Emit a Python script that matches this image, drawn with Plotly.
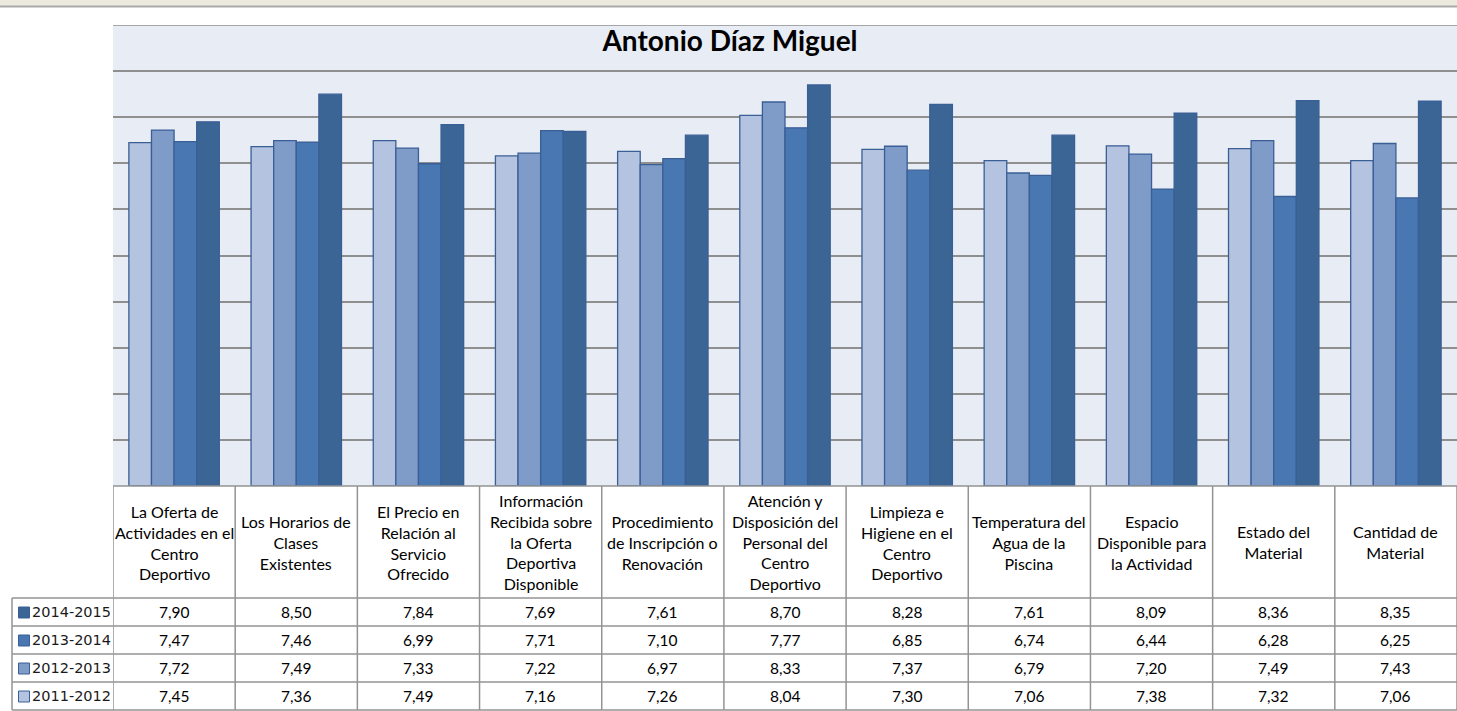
import plotly.graph_objects as go

categories = [
    "La Oferta de<br>Actividades en el<br>Centro<br>Deportivo",
    "Los Horarios de<br>Clases<br>Existentes",
    "El Precio en<br>Relación al<br>Servicio<br>Ofrecido",
    "Información<br>Recibida sobre<br>la Oferta<br>Deportiva<br>Disponible",
    "Procedimiento<br>de Inscripción o<br>Renovación",
    "Atención y<br>Disposición del<br>Personal del<br>Centro<br>Deportivo",
    "Limpieza e<br>Higiene en el<br>Centro<br>Deportivo",
    "Temperatura del<br>Agua de la<br>Piscina",
    "Espacio<br>Disponible para<br>la Actividad",
    "Estado del<br>Material",
    "Cantidad de<br>Material",
]

series_names = ["2011-2012", "2012-2013", "2013-2014", "2014-2015"]
v_2011_2012 = [7.45, 7.36, 7.49, 7.16, 7.26, 8.04, 7.30, 7.06, 7.38, 7.32, 7.06]
v_2012_2013 = [7.72, 7.49, 7.33, 7.22, 6.97, 8.33, 7.37, 6.79, 7.20, 7.49, 7.43]
v_2013_2014 = [7.47, 7.46, 6.99, 7.71, 7.10, 7.77, 6.85, 6.74, 6.44, 6.28, 6.25]
v_2014_2015 = [7.90, 8.50, 7.84, 7.69, 7.61, 8.70, 8.28, 7.61, 8.09, 8.36, 8.35]
series_values = [v_2011_2012, v_2012_2013, v_2013_2014, v_2014_2015]
series_colors = ["#B4C3DF", "#7F9BC8", "#4877B1", "#3B6595"]

title_text = "Antonio Díaz Miguel"

# ---- layout geometry (pixels) ----
W, H = 1457, 711
ML, MR, MT, MB = 113, 0, 25, 225
PH = H - MT - MB
PW = W - ML - MR
PLOT_BOTTOM = H - MB


def yp(Y):
    return (PLOT_BOTTOM - Y) / PH


def xp(X):
    return (X - ML) / PW


HEADER_BOTTOM = 598
ROW_H = 28
TABLE_LEFT = 12
GRID = "#939393"
FONT = "Lato"

fig = go.Figure()
for name, vals, col in zip(series_names, series_values, series_colors):
    fig.add_trace(go.Bar(
        x=categories, y=vals, name=name,
        marker=dict(color=col, line=dict(color="#3A5F96", width=1.3)),
        showlegend=False,
    ))

shapes = []
annotations = []

# top toolbar band
shapes.append(dict(type="rect", xref="paper", yref="paper",
                   x0=xp(0), x1=xp(W), y0=yp(6), y1=yp(-2),
                   fillcolor="#ECE9DF", line=dict(width=0), layer="above"))
shapes.append(dict(type="line", xref="paper", yref="paper",
                   x0=xp(0), x1=xp(W), y0=yp(6.5), y1=yp(6.5),
                   line=dict(color="#A9A9A9", width=2)))
# top gridline (value 10)
shapes.append(dict(type="line", xref="paper", yref="y",
                   x0=0, x1=1, y0=10, y1=10,
                   line=dict(color="#8F8F8F", width=1.5)))

# table: vertical lines at category boundaries
for i in range(len(categories) + 1):
    shapes.append(dict(type="line", xref="x", yref="paper",
                       x0=i - 0.5, x1=i - 0.5,
                       y0=yp(PLOT_BOTTOM), y1=yp(HEADER_BOTTOM + 4 * ROW_H),
                       line=dict(color=GRID, width=1.5)))
# header top line (plot bottom)
shapes.append(dict(type="line", xref="paper", yref="paper",
                   x0=0, x1=1, y0=yp(PLOT_BOTTOM), y1=yp(PLOT_BOTTOM),
                   line=dict(color=GRID, width=1.5)))
# row lines
for r in range(5):
    Y = HEADER_BOTTOM + r * ROW_H
    shapes.append(dict(type="line", xref="paper", yref="paper",
                       x0=xp(TABLE_LEFT), x1=1, y0=yp(Y), y1=yp(Y),
                       line=dict(color=GRID, width=1.5)))
# legend column left border
shapes.append(dict(type="line", xref="paper", yref="paper",
                   x0=xp(TABLE_LEFT), x1=xp(TABLE_LEFT),
                   y0=yp(HEADER_BOTTOM), y1=yp(HEADER_BOTTOM + 4 * ROW_H),
                   line=dict(color=GRID, width=1.5)))

# header labels
for c in categories:
    annotations.append(dict(x=c, xref="x", y=yp((PLOT_BOTTOM + HEADER_BOTTOM) / 2), yref="paper",
                            text=c, showarrow=False, xanchor="center", yanchor="middle",
                            align="center", font=dict(family=FONT, size=16, color="#000000")))

# rows: newest series first
row_order = list(range(len(series_names)))[::-1]
for r, si in enumerate(row_order):
    Yc = HEADER_BOTTOM + r * ROW_H + ROW_H / 2
    # legend key square
    shapes.append(dict(type="rect", xref="paper", yref="paper",
                       x0=xp(18.5), x1=xp(29.5), y0=yp(Yc - 5), y1=yp(Yc + 6),
                       fillcolor=series_colors[si], line=dict(color="#3A5F96", width=1)))
    annotations.append(dict(x=xp(30), xref="paper", y=yp(Yc), yref="paper",
                            text=series_names[si],
                            showarrow=False, xanchor="left", yanchor="middle",
                            font=dict(family="DejaVu Sans", size=14.5, color="#1A1A1A")))
    for c, v in zip(categories, series_values[si]):
        annotations.append(dict(x=c, xref="x", y=yp(Yc), yref="paper",
                                text=f"{v:.2f}".replace(".", ","),
                                showarrow=False, xanchor="center", yanchor="middle",
                                font=dict(family=FONT, size=15.5, color="#000000")))

fig.update_layout(
    width=W, height=H,
    margin=dict(l=ML, r=MR, t=MT, b=MB, pad=0),
    paper_bgcolor="#FFFFFF",
    plot_bgcolor="#E8ECF4",
    barmode="group",
    bargap=0.26,
    bargroupgap=0,
    title=dict(text=f"<b>{title_text}</b>", x=730 / W, xref="container", xanchor="center",
               y=1 - 41 / H, yref="container", yanchor="middle",
               font=dict(family=FONT, size=28, color="#000000")),
    xaxis=dict(type="category", range=[-0.5, len(categories) - 0.5],
               showticklabels=False, showgrid=False, zeroline=False, showline=False, ticks=""),
    yaxis=dict(range=[0, 10], dtick=1, showticklabels=False, showgrid=True,
               gridcolor="#8F8F8F", gridwidth=1.5, zeroline=False, showline=False, ticks=""),
    shapes=shapes,
    annotations=annotations,
)

fig.write_html("out.html", config={"displayModeBar": False},
               post_script="document.body.style.margin='0px';")
